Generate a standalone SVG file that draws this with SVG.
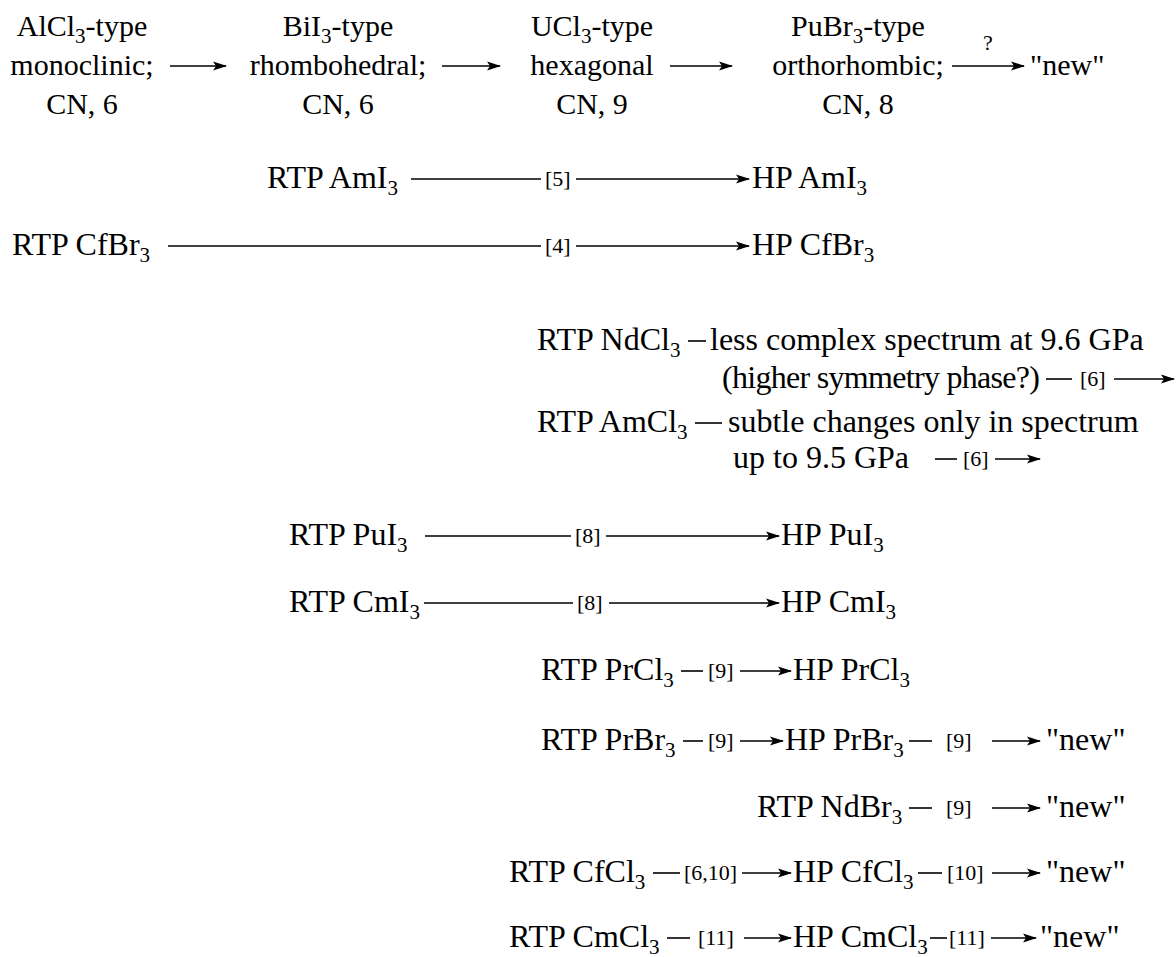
<svg xmlns="http://www.w3.org/2000/svg" width="1176" height="957" viewBox="0 0 1176 957">
<style>
text{font-family:"Liberation Serif","Times New Roman",serif;fill:#000}
.h{font-size:30px}
.t{font-size:32px}
.c{text-anchor:middle}
.e{text-anchor:end}
.r{font-size:22px}
.s{font-size:21px}
.ln{stroke:#000;stroke-width:1.6;fill:none}
.ar{stroke:#000;stroke-width:1.6;fill:none;marker-end:url(#ah)}
</style>
<defs>
<marker id="ah" viewBox="0 0 14 10" refX="13" refY="5" markerWidth="14" markerHeight="10" orient="auto" markerUnits="userSpaceOnUse">
<path d="M0,0.5 L14,5 L0,9.5 L3,5 z" fill="#000"/>
</marker>
</defs>
<rect width="1176" height="957" fill="#fff"/>

<g id="hdr-alcl3">
<text class="h c" x="82" y="36">AlCl<tspan class="s" font-size="20" dy="7">3</tspan><tspan dy="-7">-type</tspan></text>
<text class="h c" x="82" y="75">monoclinic;</text>
<text class="h c" x="82" y="114">CN, 6</text>
</g>
<g id="hdr-bii3">
<text class="h c" x="338" y="36">BiI<tspan class="s" dy="7">3</tspan><tspan dy="-7">-type</tspan></text>
<text class="h c" x="338" y="75">rhombohedral;</text>
<text class="h c" x="338" y="114">CN, 6</text>
</g>
<g id="hdr-ucl3">
<text class="h c" x="592" y="36">UCl<tspan class="s" dy="7">3</tspan><tspan dy="-7">-type</tspan></text>
<text class="h c" x="592" y="75">hexagonal</text>
<text class="h c" x="592" y="114">CN, 9</text>
</g>
<g id="hdr-pubr3">
<text class="h c" x="858" y="36">PuBr<tspan class="s" dy="7">3</tspan><tspan dy="-7">-type</tspan></text>
<text class="h c" x="858" y="75">orthorhombic;</text>
<text class="h c" x="858" y="114">CN, 8</text>
</g>
<g id="hdr-new">
<text class="h" x="1030" y="75">"new"</text>
</g>

<g id="amI3">
<text class="t" x="267" y="188">RTP AmI<tspan class="s" dy="7">3</tspan></text>
<text class="t" x="752" y="188">HP AmI<tspan class="s" dy="7">3</tspan></text>
</g>
<g id="cfBr3">
<text class="t" x="12" y="255">RTP CfBr<tspan class="s" dy="7">3</tspan></text>
<text class="t" x="752" y="255">HP CfBr<tspan class="s" dy="7">3</tspan></text>
</g>
<g id="ndCl3">
<text class="t" x="537" y="350">RTP NdCl<tspan class="s" dy="7">3</tspan></text>
<text class="t" x="710" y="350">less complex spectrum at 9.6 GPa</text>
<text class="t" x="722" y="388" textLength="318" lengthAdjust="spacing">(higher symmetry phase?)</text>
</g>
<g id="amCl3">
<text class="t" x="537" y="432">RTP AmCl<tspan class="s" dy="7">3</tspan></text>
<text class="t" x="728" y="432">subtle changes only in spectrum</text>
<text class="t" x="733" y="468">up to 9.5 GPa</text>
</g>
<g id="puI3">
<text class="t" x="289" y="545">RTP PuI<tspan class="s" dy="7">3</tspan></text>
<text class="t" x="781" y="545">HP PuI<tspan class="s" dy="7">3</tspan></text>
</g>
<g id="cmI3">
<text class="t" x="289" y="612">RTP CmI<tspan class="s" dy="7">3</tspan></text>
<text class="t" x="781" y="612">HP CmI<tspan class="s" dy="7">3</tspan></text>
</g>
<g id="prCl3">
<text class="t" x="541" y="680">RTP PrCl<tspan class="s" dy="7">3</tspan></text>
<text class="t" x="793" y="680">HP PrCl<tspan class="s" dy="7">3</tspan></text>
</g>
<g id="prBr3">
<text class="t" x="541" y="750">RTP PrBr<tspan class="s" dy="7">3</tspan></text>
<text class="t" x="785" y="750">HP PrBr<tspan class="s" dy="7">3</tspan></text>
<text class="t" x="1046" y="750">"new"</text>
</g>
<g id="ndBr3">
<text class="t" x="757" y="817">RTP NdBr<tspan class="s" dy="7">3</tspan></text>
<text class="t" x="1046" y="817">"new"</text>
</g>
<g id="cfCl3">
<text class="t" x="509" y="882">RTP CfCl<tspan class="s" dy="7">3</tspan></text>
<text class="t" x="793" y="882">HP CfCl<tspan class="s" dy="7">3</tspan></text>
<text class="t" x="1046" y="882">"new"</text>
</g>
<g id="cmCl3">
<text class="t" x="509" y="947">RTP CmCl<tspan class="s" dy="7">3</tspan></text>
<text class="t" x="793" y="947">HP CmCl<tspan class="s" dy="7">3</tspan></text>
<text class="t" x="1040" y="947">"new"</text>
</g>

<g id="connectors">
<line class="ar" x1="170" y1="66" x2="226" y2="66"/>
<line class="ar" x1="442" y1="66" x2="500" y2="66"/>
<line class="ar" x1="670" y1="66" x2="732" y2="66"/>
<line class="ar" x1="952" y1="66" x2="1024" y2="66"/>
<text class="r c" x="988" y="50">?</text>

<line class="ln" x1="411" y1="179" x2="541" y2="179"/>
<text class="r" x="545" y="186">[5]</text>
<line class="ar" x1="576" y1="179" x2="749" y2="179"/>

<line class="ln" x1="168" y1="246" x2="541" y2="246"/>
<text class="r" x="545" y="253">[4]</text>
<line class="ar" x1="576" y1="246" x2="749" y2="246"/>

<line class="ln" x1="688" y1="341" x2="706" y2="341"/>
<line class="ln" x1="1046" y1="379" x2="1072" y2="379"/>
<text class="r" x="1080" y="386">[6]</text>
<line class="ar" x1="1114" y1="379" x2="1174" y2="379"/>

<line class="ln" x1="695" y1="423" x2="722" y2="423"/>
<line class="ln" x1="935" y1="459" x2="957" y2="459"/>
<text class="r" x="963" y="466">[6]</text>
<line class="ar" x1="995" y1="459" x2="1040" y2="459"/>

<line class="ln" x1="425" y1="536" x2="571" y2="536"/>
<text class="r" x="575" y="543">[8]</text>
<line class="ar" x1="606" y1="536" x2="779" y2="536"/>

<line class="ln" x1="424" y1="603" x2="573" y2="603"/>
<text class="r" x="577" y="610">[8]</text>
<line class="ar" x1="609" y1="603" x2="779" y2="603"/>

<line class="ln" x1="681" y1="671" x2="703" y2="671"/>
<text class="r" x="708" y="678">[9]</text>
<line class="ar" x1="740" y1="671" x2="791" y2="671"/>

<line class="ln" x1="683" y1="741" x2="703" y2="741"/>
<text class="r" x="708" y="748">[9]</text>
<line class="ar" x1="740" y1="741" x2="783" y2="741"/>
<line class="ln" x1="909" y1="741" x2="932" y2="741"/>
<text class="r" x="946" y="748">[9]</text>
<line class="ar" x1="992" y1="741" x2="1040" y2="741"/>

<line class="ln" x1="909" y1="808" x2="932" y2="808"/>
<text class="r" x="946" y="815">[9]</text>
<line class="ar" x1="992" y1="808" x2="1040" y2="808"/>

<line class="ln" x1="653" y1="873" x2="680" y2="873"/>
<text class="r" x="684" y="880">[6,10]</text>
<line class="ar" x1="742" y1="873" x2="791" y2="873"/>
<line class="ln" x1="918" y1="873" x2="942" y2="873"/>
<text class="r" x="947" y="880">[10]</text>
<line class="ar" x1="992" y1="873" x2="1040" y2="873"/>

<line class="ln" x1="667" y1="938" x2="690" y2="938"/>
<text class="r" x="698" y="945" font-size="24">[11]</text>
<line class="ar" x1="744" y1="938" x2="791" y2="938"/>
<line class="ln" x1="930" y1="938" x2="947" y2="938"/>
<text class="r" x="949" y="945" font-size="24">[11]</text>
<line class="ar" x1="991" y1="938" x2="1036" y2="938"/>
</g>
</svg>
